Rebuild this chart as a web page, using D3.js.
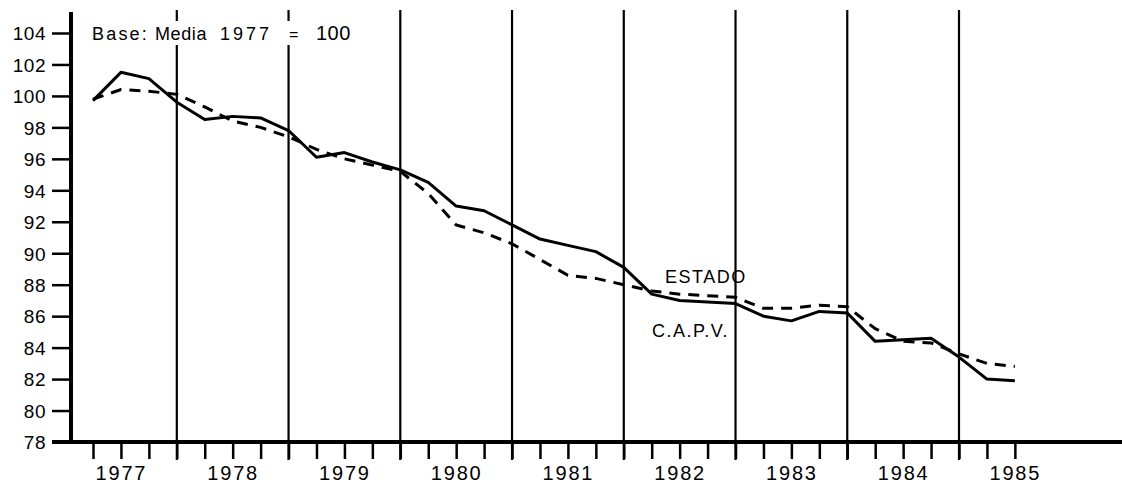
<!DOCTYPE html>
<html>
<head>
<meta charset="utf-8">
<script src="https://cdn.jsdelivr.net/npm/d3@7"></script>
<style>
  body { margin: 0; background: #fff; }
  svg { display: block; font-family: "Liberation Sans", Arial, sans-serif; }
  .y.axis text { font-size: 19px; letter-spacing: 0.5px; fill: #000; }
  .x.axis text { font-size: 20px; letter-spacing: 1.8px; fill: #000; }
  .axis line { stroke: #000; stroke-width: 2.5px; }
  .axis .domain { display: none; }
  .label { font-size: 18px; letter-spacing: 1.5px; fill: #000; }
</style>
</head>
<body>
<svg id="chart"></svg>
<script>
const chartSize = { width: 1122, height: 484 };

// quarters: index 0 = 1977 T1 ... 33 = 1985 T2
const years = ["1977", "1978", "1979", "1980", "1981", "1982", "1983", "1984", "1985"];
const yTicks = [78, 80, 82, 84, 86, 88, 90, 92, 94, 96, 98, 100, 102, 104];

const capv = [
  99.7, 101.5, 101.1, 99.6, 98.5, 98.7, 98.6, 97.8,
  96.1, 96.4, 95.8, 95.3, 94.5, 93.0, 92.7, 91.8,
  90.9, 90.5, 90.1, 89.1, 87.4, 87.0, 86.9, 86.8,
  86.0, 85.7, 86.3, 86.2, 84.4, 84.5, 84.6, 83.4,
  82.0, 81.9
];

const estado = [
  99.8, 100.4, 100.3, 100.1, 99.3, 98.4, 98.0, 97.4,
  96.6, 96.0, 95.6, 95.2, 93.8, 91.8, 91.3, 90.6,
  89.6, 88.6, 88.4, 88.0, 87.6, 87.4, 87.3, 87.2,
  86.5, 86.5, 86.7, 86.6, 85.2, 84.4, 84.3, 83.6,
  83.0, 82.8
];

const x = d3.scaleLinear().domain([0, 31]).range([93, 959]);
const y = d3.scaleLinear().domain([78, 104]).range([442, 33]);

const svg = d3.select("#chart")
  .attr("width", chartSize.width)
  .attr("height", chartSize.height);

// year separators (end of each year, T4)
const separators = d3.range(3, 32, 4);
svg.selectAll("line.sep")
  .data(separators)
  .enter()
  .append("line")
  .attr("class", "sep")
  .attr("x1", d => x(d))
  .attr("x2", d => x(d))
  .attr("y1", 10)
  .attr("y2", 460)
  .attr("stroke", "#000")
  .attr("stroke-width", 2.2);

// quarter ticks
svg.append("g")
  .attr("class", "x axis")
  .attr("transform", `translate(0,${y(78)})`)
  .call(d3.axisBottom(x).tickValues(d3.range(0, 34)).tickSize(17).tickFormat(""));

// year labels
svg.append("g")
  .attr("class", "x axis")
  .attr("transform", `translate(0,${y(78)})`)
  .call(d3.axisBottom(x)
    .tickValues(years.map((d, i) => i * 4 + 1))
    .tickSize(0)
    .tickPadding(24)
    .tickFormat((d, i) => years[i]));

// y axis
const yAxis = svg.append("g")
  .attr("class", "y axis")
  .attr("transform", "translate(71,0)")
  .call(d3.axisLeft(y).tickValues(yTicks).tickSize(19).tickPadding(6));
yAxis.selectAll("text").attr("dy", "0.36em");

// main axis lines
svg.append("line")
  .attr("x1", 71).attr("x2", 71)
  .attr("y1", 12).attr("y2", y(78) + 2)
  .attr("stroke", "#000").attr("stroke-width", 4);
svg.append("line")
  .attr("x1", 52).attr("x2", chartSize.width)
  .attr("y1", y(78)).attr("y2", y(78))
  .attr("stroke", "#000").attr("stroke-width", 4);

const line = d3.line()
  .x((d, i) => x(i))
  .y(d => y(d));

svg.append("path")
  .attr("class", "estado")
  .attr("d", line(estado))
  .attr("fill", "none")
  .attr("stroke", "#000")
  .attr("stroke-width", 3)
  .attr("stroke-dasharray", "11,8");

svg.append("path")
  .attr("class", "capv")
  .attr("d", line(capv))
  .attr("fill", "none")
  .attr("stroke", "#000")
  .attr("stroke-width", 3)
  .attr("stroke-linejoin", "round");

// base note, on a white patch that cuts the separators
svg.append("rect")
  .attr("x", 88).attr("y", 21)
  .attr("width", 268).attr("height", 24)
  .attr("fill", "#fff");

const note = svg.append("text")
  .attr("y", 40)
  .attr("fill", "#000")
  .attr("font-size", 18);
note.append("tspan").attr("x", 92).attr("letter-spacing", "2.2px").text("Base:");
note.append("tspan").attr("x", 155).attr("letter-spacing", "0.6px").text("Media");
note.append("tspan").attr("x", 220).attr("letter-spacing", "3px").text("1977");
note.append("tspan").attr("x", 289).attr("font-size", 16).text("=");
note.append("tspan").attr("x", 316).attr("font-size", 20).attr("letter-spacing", "0.5px").text("100");

svg.append("text")
  .attr("class", "label")
  .attr("x", 665)
  .attr("y", 283)
  .text("ESTADO");

svg.append("text")
  .attr("class", "label")
  .attr("x", 652)
  .attr("y", 337)
  .attr("letter-spacing", "1px")
  .text("C.A.P.V.");
</script>
</body>
</html>
